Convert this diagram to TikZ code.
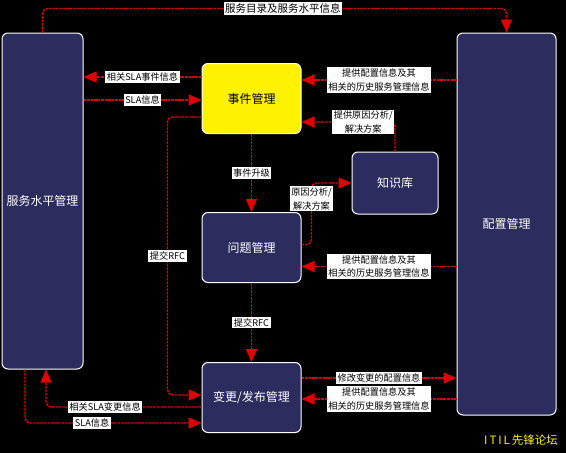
\documentclass[tikz,border=0pt]{standalone}
\usepackage{fontspec}
\newfontfamily\cjk{Noto Sans CJK SC}
\usetikzlibrary{arrows.meta,positioning}
\definecolor{navy}{RGB}{44,44,94}
\definecolor{rline}{RGB}{225,0,0}
\tikzset{bx/.style={draw=white,line width=1pt,rounded corners=6pt,fill=navy,text=white,align=center,font=\cjk\fontsize{12}{14}\selectfont,minimum width=99pt,minimum height=70pt,inner sep=0pt},
 ar/.style={rline,line width=1.4pt,dash pattern=on 2.5pt off 1pt,rounded corners=5pt,-{Triangle[length=13pt,width=11pt]}},
 lb/.style={sharp corners,fill=white,text=black,font=\cjk\fontsize{9.2}{13.5}\selectfont,inner sep=1.5pt,align=center}}
\begin{document}
\begin{tikzpicture}[x=1pt,y=-1pt,node distance=78pt]
\fill[black](0,0)rectangle(566,453);\useasboundingbox(0,0)rectangle(566,453);
\node[bx,minimum width=81pt,minimum height=336pt](slm)at(42.5,201){服务水平管理};
\node[bx,minimum height=382pt](cm)at(506.5,224){配置管理};
\node[bx,fill=yellow,text=black](ev)at(251.5,98.5){事件管理};
\node[bx,below=of ev](pb){问题管理};\node[bx,below=79pt of pb](ch){变更/发布管理};
\node[bx,minimum width=86pt,minimum height=62pt](kb)at(395,183){知识库};
\node[text=yellow,font=\cjk\fontsize{11.5}{13}\selectfont](itil)at(521,440){I\,T\,I\,L\,先锋论坛};
\draw[ar](slm.north)--++(0,-24)-|node[lb,pos=0.259,font=\cjk\fontsize{10.5}{12}\selectfont]{服务目录及服务水平信息}(cm.north);
\draw[ar]([yshift=21.5pt]ev.west)--node[lb]{相关SLA事件信息}([yshift=21.5pt]ev.west-|slm.east);
\draw[ar]([yshift=-1.5pt]ev.west-|slm.east)--node[lb]{SLA信息}([yshift=-1.5pt]ev.west);
\draw[ar]([yshift=18.5pt]ev.east-|cm.west)--node[lb]{提供配置信息及其\\相关的历史服务管理信息}([yshift=18.5pt]ev.east);
\draw[ar](kb.north)|-node[lb,pos=0.67]{提供原因分析/\\解决方案}([yshift=-23.5pt]ev.east);
\draw[ar](ev.south)--node[lb]{事件升级}(pb.north);
\draw[ar]([yshift=3pt]pb.east)--++(10,0)|-node[lb,pos=0.37]{原因分析/\\解决方案}(kb.west);
\draw[ar]([yshift=-19pt]pb.east-|cm.west)--node[lb]{提供配置信息及其\\相关的历史服务管理信息}([yshift=-19pt]pb.east);
\draw[ar]([yshift=-18.5pt]ev.west)--++(-34,0)|-node[lb,pos=0.25]{提交RFC}([yshift=2.5pt]ch.west);
\draw[ar](pb.south)--node[lb]{提交RFC}(ch.north);
\draw[ar]([yshift=19.5pt]ch.east)--node[lb]{修改变更的配置信息}([yshift=19.5pt]ch.east-|cm.west);
\draw[ar]([yshift=-1.5pt]ch.east-|cm.west)--node[lb]{提供配置信息及其\\相关的历史服务管理信息}([yshift=-1.5pt]ch.east);
\draw[ar]([yshift=-9.5pt]ch.west)-|node[lb,pos=0.31]{相关SLA变更信息}([xshift=3.5pt]slm.south);
\draw[ar]([xshift=-17.5pt]slm.south)|-node[lb,pos=0.69]{SLA信息}([yshift=-25.5pt]ch.west);
\end{tikzpicture}
\end{document}
